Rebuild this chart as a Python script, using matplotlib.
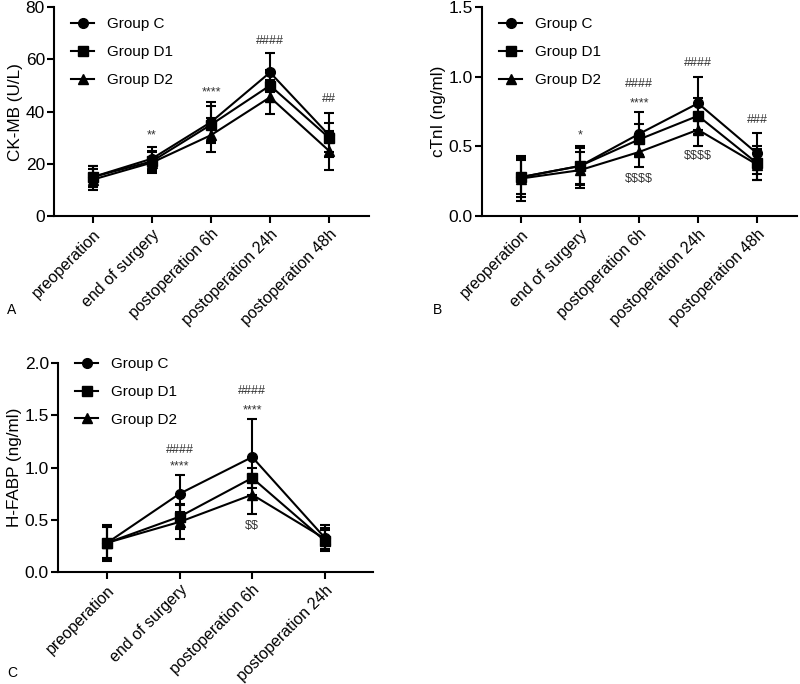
import matplotlib
matplotlib.use("Agg")
import matplotlib.pyplot as plt
import numpy as np

plt.rcParams['font.family'] = ['Liberation Sans', 'DejaVu Sans']

groups = ["Group C", "Group D1", "Group D2"]
markers = ["o", "s", "^"]

cats5 = ["preoperation", "end of surgery", "postoperation 6h", "postoperation 24h", "postoperation 48h"]
cats4 = ["preoperation", "end of surgery", "postoperation 6h", "postoperation 24h"]

# Panel A: CK-MB
ckmb_mean = {
    "Group C": [15, 22, 36, 55, 31],
    "Group D1": [15, 21, 35, 50, 30],
    "Group D2": [14, 20.5, 31, 45.5, 25],
}
ckmb_sd = {
    "Group C": [4, 4.5, 7.5, 7.5, 8.5],
    "Group D1": [4, 4, 7, 6, 5.5],
    "Group D2": [4, 4, 6.5, 6.5, 7.5],
}
ckmb_ann = [(1, 31, "**"), (2, 47.5, "****"), (3, 67, "####"), (4, 45, "##")]

# Panel B: cTnI
ctni_mean = {
    "Group C": [0.28, 0.36, 0.59, 0.81, 0.45],
    "Group D1": [0.28, 0.36, 0.55, 0.72, 0.38],
    "Group D2": [0.27, 0.33, 0.46, 0.62, 0.37],
}
ctni_sd = {
    "Group C": [0.14, 0.14, 0.16, 0.19, 0.15],
    "Group D1": [0.12, 0.13, 0.11, 0.13, 0.12],
    "Group D2": [0.16, 0.13, 0.11, 0.12, 0.11],
}
ctni_ann = [(1, 0.58, "*"), (2, 0.95, "####"), (2, 0.81, "****"), (2, 0.27, "$$$$"),
            (3, 1.10, "####"), (3, 0.43, "$$$$"), (4, 0.69, "###")]

# Panel C: H-FABP
hfabp_mean = {
    "Group C": [0.28, 0.75, 1.10, 0.33],
    "Group D1": [0.28, 0.53, 0.90, 0.30],
    "Group D2": [0.28, 0.48, 0.74, 0.32],
}
hfabp_sd = {
    "Group C": [0.17, 0.18, 0.36, 0.12],
    "Group D1": [0.15, 0.12, 0.10, 0.10],
    "Group D2": [0.16, 0.16, 0.18, 0.10],
}
hfabp_ann = [(1, 1.17, "####"), (1, 1.01, "****"), (2, 1.73, "####"), (2, 1.55, "****"), (2, 0.44, "$$")]

fig = plt.figure(figsize=(8, 6.84), dpi=100)


def panel(rect, cats, means, sds, ann, ylim, yticks, yfmt, ylabel, xlim, leg_y):
    ax = fig.add_axes(rect)
    x = np.arange(len(cats))
    for g, m in zip(groups, markers):
        ax.errorbar(x, means[g], yerr=sds[g], fmt="none", ecolor="black",
                    elinewidth=1.5, capsize=3.5, capthick=1.5)
        ax.plot(x, means[g], color="black", marker=m, markersize=7,
                linewidth=1.5, label=g)
    for xi, yi, t in ann:
        ax.text(xi, yi, t, ha="center", va="center", fontsize=9, color="#333333",
                parse_math=False)
    ax.set_ylim(*ylim)
    ax.set_xlim(*xlim)
    ax.set_yticks(yticks)
    ax.set_yticklabels([yfmt.format(v) for v in yticks], fontsize=12.5)
    ax.set_xticks(x)
    ax.set_xticklabels(cats, rotation=45, ha="right", rotation_mode="anchor", fontsize=11.5)
    ax.set_ylabel(ylabel, fontsize=12.3, labelpad=2)
    for s in ["top", "right"]:
        ax.spines[s].set_visible(False)
    for s in ["left", "bottom"]:
        ax.spines[s].set_linewidth(1.5)
    ax.tick_params(width=1.5, length=5)
    ax.tick_params(axis="y", pad=1.5)
    ax.tick_params(axis="x", pad=2.5)
    ax.legend(loc="upper left", frameon=False, fontsize=11, handlelength=1.5,
              handletextpad=0.85, labelspacing=0.9, borderaxespad=0.0,
              bbox_to_anchor=(0.035, leg_y))
    return ax


panel([0.0675, 0.684, 0.394, 0.3056], cats5, ckmb_mean, ckmb_sd, ckmb_ann,
      (0, 80), [0, 20, 40, 60, 80], "{:.0f}", "CK-MB (U/L)", (-0.66, 4.68), 0.98)
panel([0.6025, 0.684, 0.394, 0.3056], cats5, ctni_mean, ctni_sd, ctni_ann,
      (0, 1.5), [0.0, 0.5, 1.0, 1.5], "{:.1f}", "cTnI (ng/ml)", (-0.66, 4.68), 0.98)
panel([0.0725, 0.1637, 0.394, 0.3056], cats4, hfabp_mean, hfabp_sd, hfabp_ann,
      (0, 2.0), [0.0, 0.5, 1.0, 1.5, 2.0], "{:.1f}", "H-FABP (ng/ml)", (-0.68, 3.67), 1.057)

fig.text(7 / 800, 1 - 310 / 684, "A", fontsize=10, ha="left", va="center")
fig.text(438 / 800, 1 - 310 / 684, "B", fontsize=10, ha="center", va="center")
fig.text(7 / 800, 1 - 673 / 684, "C", fontsize=10, ha="left", va="center")

fig.savefig("out.png", dpi=100)
